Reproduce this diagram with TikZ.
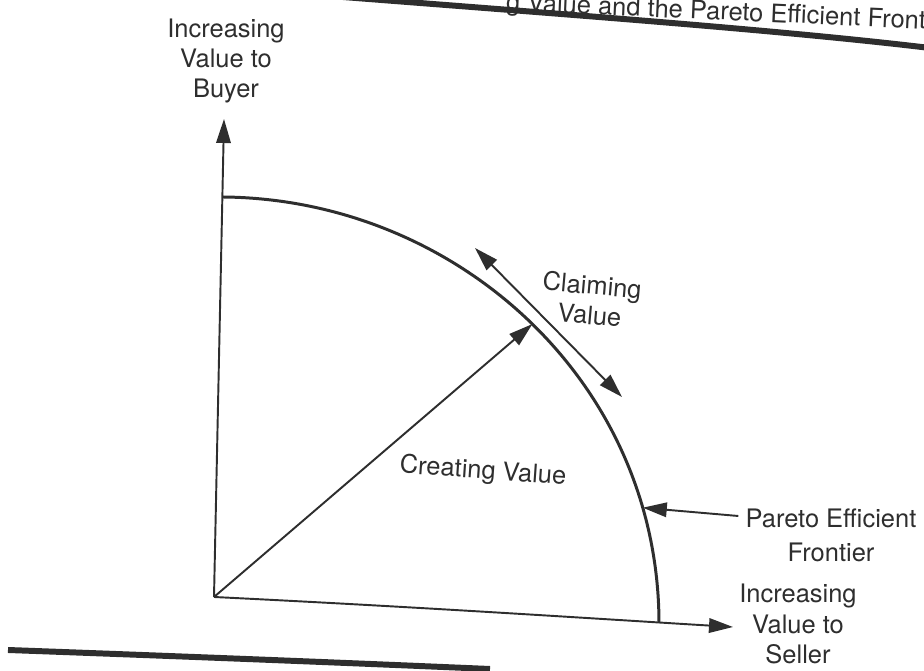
\documentclass[tikz,border=0pt]{standalone}
\usepackage{fontspec}
\setmainfont{TeX Gyre Heros}
\usepackage{tikz}
\usetikzlibrary{arrows.meta}
\usetikzlibrary{positioning}

\begin{document}
\begin{tikzpicture}[x=0.02cm,y=-0.02cm,
    ink/.style={draw=black!82},
    axis/.style={ink,line width=1.1pt,-{Triangle[length=4.8mm,width=2.9mm]}},
    frontier/.style={ink,line width=1.7pt},
    pointer/.style={ink,line width=1.1pt,-{Triangle[length=4.8mm,width=2.9mm]}},
    both/.style={ink,line width=1.1pt,{Triangle[length=4.8mm,width=2.9mm]}-{Triangle[length=4.8mm,width=2.9mm]}},
    rule/.style={ink,line width=3.4pt},
    lbl/.style={text=black!82,font=\fontsize{14.5}{17.2}\selectfont,align=center,inner sep=0pt}
    ]
  \useasboundingbox (0,0) rectangle (924,671);
  \clip (0,0) rectangle (924,671);

  % page rules and running title
  \draw[rule] (330,-4) .. controls (560,14) and (780,30) .. (930,48);
  \draw[rule] (8,650) .. controls (200,657) and (350,663) .. (490,669);
  \node[lbl,rotate=-2.5,anchor=base east] (title) at (926,29)
    {g Value and the Pareto Efficient Front};

  % axes
  \coordinate (O) at (214,597);
  \coordinate (ytip) at (224,119);
  \coordinate (xtip) at (733,627);
  \draw[axis] (O) -- (ytip);
  \draw[axis] (O) .. controls (420,607) and (600,619) .. (xtip);

  % frontier
  \coordinate (B) at (223,197);
  \coordinate (S) at (659,622);
  \draw[frontier] (B) .. controls (455,199) and (658,380) .. (S)
    coordinate[pos=0.51] (M) coordinate[pos=0.835] (P);

  % creating and claiming
  \draw[pointer] (O) -- (M);
  \coordinate (cl1) at (475,248);
  \coordinate (cl2) at (622,397);
  \draw[both] (cl1) -- (cl2);

  \node[lbl] (buyer) at (226,61) {Increasing\\Value to\\Buyer};
  \node[lbl] (seller) at (798,624) {Increasing\\Value to\\Seller};
  \node[lbl,rotate=-5] (claim) at (591,300) {Claiming\\Value};
  \node[lbl,rotate=-4] (create) at (483,472) {Creating Value};
  \node[lbl] (pareto) at (831,518) {Pareto Efficient};
  \node[lbl,below=0.3cm of pareto] (front) {Frontier};
  \draw[pointer] (pareto.west) ++(-7,-2) coordinate (pstart) (pstart) -- (P);
\end{tikzpicture}
\end{document}
